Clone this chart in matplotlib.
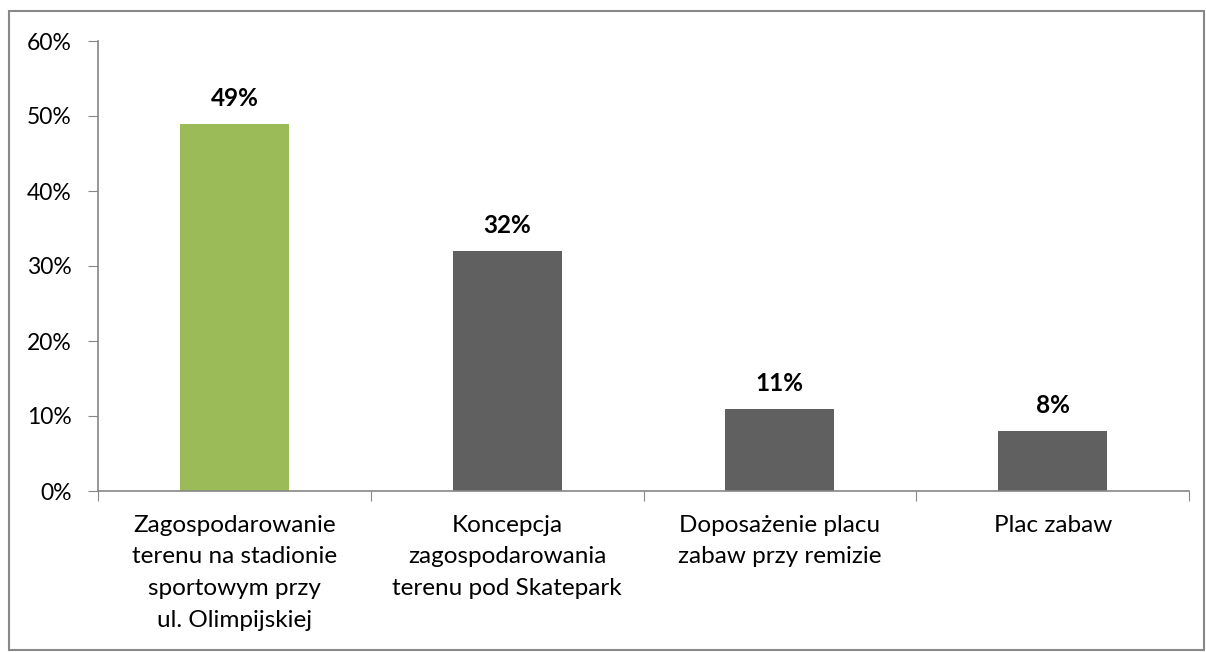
import matplotlib.pyplot as plt
from matplotlib.patches import Rectangle
from matplotlib.ticker import FuncFormatter

categories = ["Zagospodarowanie\nterenu na stadionie\nsportowym przy\nul. Olimpijskiej",
              "Koncepcja\nzagospodarowania\nterenu pod Skatepark",
              "Doposażenie placu\nzabaw przy remizie",
              "Plac zabaw"]
values = [49, 32, 11, 8]
colors = ["#9BBB59", "#606060", "#606060", "#606060"]

plt.rcParams['font.family'] = ['Lato', 'DejaVu Sans']
axis_col = "#868686"

fig = plt.figure(figsize=(12.06, 6.52), dpi=100)
ax = fig.add_axes([98/1206, 1-491/652, (1189-98)/1206, (491-41)/652])

x = range(len(values))
ax.bar(x, values, width=0.4, color=colors, zorder=2)
for i, v in enumerate(values):
    ax.annotate("{}%".format(v), (i, v), xytext=(0, 10), textcoords="offset points",
                ha="center", va="bottom", fontsize=17.5, fontweight="bold")

ax.set_xlim(-0.5, len(values)-0.5)
ax.set_ylim(0, 60)
ax.set_yticks(range(0, 61, 10))
ax.yaxis.set_major_formatter(FuncFormatter(lambda v, p: "{:.0f}%".format(v)))
ax.set_xticks([i-0.5 for i in range(len(values)+1)])
ax.set_xticklabels([])
ax.set_xticks(list(x), minor=True)
ax.set_xticklabels(categories, minor=True, fontsize=17.5, linespacing=1.63)
ax.tick_params(axis="x", which="minor", length=0, pad=17)
ax.tick_params(axis="x", which="major", length=7, color=axis_col, direction="out")
ax.tick_params(axis="y", length=7, color=axis_col, labelsize=16.5, pad=12)
for lbl in ax.get_xticklabels(minor=True):
    lbl.set_verticalalignment("top")

for s in ["top", "right"]:
    ax.spines[s].set_visible(False)
for s in ["left", "bottom"]:
    ax.spines[s].set_color(axis_col)
    ax.spines[s].set_linewidth(1.2)

fig.patches.append(Rectangle((9/1206, 1-650/652), (1204-9)/1206, (650-11)/652,
                             transform=fig.transFigure, fill=False,
                             edgecolor="#888888", linewidth=1.5))

plt.savefig("out.png", dpi=100)
